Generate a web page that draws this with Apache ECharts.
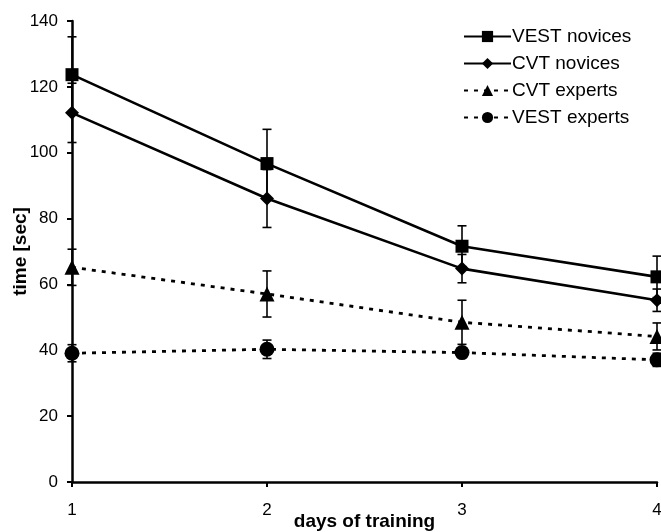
<!DOCTYPE html>
<html>
<head>
<meta charset="utf-8">
<script src="https://cdn.jsdelivr.net/npm/echarts@6/dist/echarts.min.js"></script>
<style>
  html, body { margin: 0; padding: 0; background: #fff; }
  #chart { width: 661px; height: 532px; }
</style>
</head>
<body>
<div id="chart"></div>
<script>
// days on the x axis
const days = [1, 2, 3, 4]
const yTicks = [0, 20, 40, 60, 80, 100, 120, 140]

// mean time [sec] and error (+/-) per group
const vestNovices = [123.7, 96.7, 71.6, 62.3]
const vestNovicesErr = [11.5, 10.4, 6.2, 6.3]
const cvtNovices = [112.1, 86.1, 64.8, 55.2]
const cvtNovicesErr = [9, 8.8, 4.3, 3.4]
const cvtExperts = [65.2, 57.1, 48.5, 44.2]
const cvtExpertsErr = [5.5, 7, 6.7, 4.1]
const vestExperts = [39.1, 40.3, 39.3, 37.1]
const vestExpertsErr = [2.6, 2.8, 1.5, 2]

const FONT = 'Liberation Sans, Arial, sans-serif'

const chart = echarts.init(document.getElementById('chart'))

// 折线 + 标记
const lineSeries = (name, vals, symbol, size, dashed) => ({
  name,
  type: 'line',
  data: days.map((d, i) => [d, vals[i]]),
  symbol,
  symbolSize: size,
  showAllSymbol: true,
  z: 3,
  itemStyle: { color: '#000' },
  lineStyle: { color: '#000', width: dashed ? 2.8 : 2.6, type: dashed ? [4, 6] : 'solid' },
  emphasis: { disabled: true }
})

// 误差线
const errorSeries = (vals, errs) => ({
  type: 'custom',
  silent: true,
  z: 2,
  data: days.map((d, i) => [d, vals[i] - errs[i], vals[i] + errs[i]]),
  encode: { x: 0, y: [1, 2] },
  renderItem: (params, api) => {
    const x = api.value(0)
    const lo = api.coord([x, api.value(1)])
    const hi = api.coord([x, api.value(2)])
    const w = 4.5
    const st = { stroke: '#000', lineWidth: 1.6 }
    return {
      type: 'group',
      children: [
        { type: 'line', shape: { x1: lo[0], y1: lo[1], x2: hi[0], y2: hi[1] }, style: st },
        { type: 'line', shape: { x1: lo[0] - w, y1: lo[1], x2: lo[0] + w, y2: lo[1] }, style: st },
        { type: 'line', shape: { x1: hi[0] - w, y1: hi[1], x2: hi[0] + w, y2: hi[1] }, style: st }
      ]
    }
  }
})

const option = {
  backgroundColor: '#fff',
  animation: false,
  grid: { left: 72, right: 4, top: 21, bottom: 50, containLabel: false, outerBoundsMode: 'none' },
  legend: {
    orient: 'vertical',
    left: 463,
    top: 27,
    padding: 0,
    itemWidth: 47,
    itemHeight: 14,
    itemGap: 8,
    textStyle: { color: '#000', fontSize: 19, fontFamily: FONT, padding: [0, 0, 0, -4] },
    data: ['VEST novices', 'CVT novices', 'CVT experts', 'VEST experts']
  },
  xAxis: {
    type: 'value',
    min: 1,
    max: 4,
    interval: 1,
    name: 'days of training',
    nameLocation: 'middle',
    nameGap: 30,
    nameMoveOverlap: false,
    nameTextStyle: { color: '#000', fontSize: 19, fontWeight: 'bold', fontFamily: FONT },
    axisLine: { lineStyle: { color: '#000', width: 2.5 } },
    axisTick: { show: true, length: 5, lineStyle: { color: '#000', width: 2 } },
    axisLabel: { color: '#000', fontSize: 17, fontFamily: FONT, margin: 20 },
    splitLine: { show: false }
  },
  yAxis: {
    type: 'value',
    min: yTicks[0],
    max: yTicks[yTicks.length - 1],
    interval: 20,
    name: 'time [sec]',
    nameLocation: 'middle',
    nameGap: 42,
    nameMoveOverlap: false,
    nameTextStyle: { color: '#000', fontSize: 19, fontWeight: 'bold', fontFamily: FONT },
    axisLine: { show: true, lineStyle: { color: '#000', width: 2.5 } },
    axisTick: { show: true, length: 5, lineStyle: { color: '#000', width: 2 } },
    axisLabel: { color: '#000', fontSize: 17, fontFamily: FONT, margin: 14 },
    splitLine: { show: false }
  },
  series: [
    errorSeries(vestNovices, vestNovicesErr),
    errorSeries(cvtNovices, cvtNovicesErr),
    errorSeries(cvtExperts, cvtExpertsErr),
    errorSeries(vestExperts, vestExpertsErr),
    lineSeries('VEST novices', vestNovices, 'rect', 13, false),
    lineSeries('CVT novices', cvtNovices, 'diamond', 14, false),
    lineSeries('CVT experts', cvtExperts, 'triangle', 15, true),
    lineSeries('VEST experts', vestExperts, 'circle', 15, true)
  ]
}

chart.setOption(option)
</script>
</body>
</html>
